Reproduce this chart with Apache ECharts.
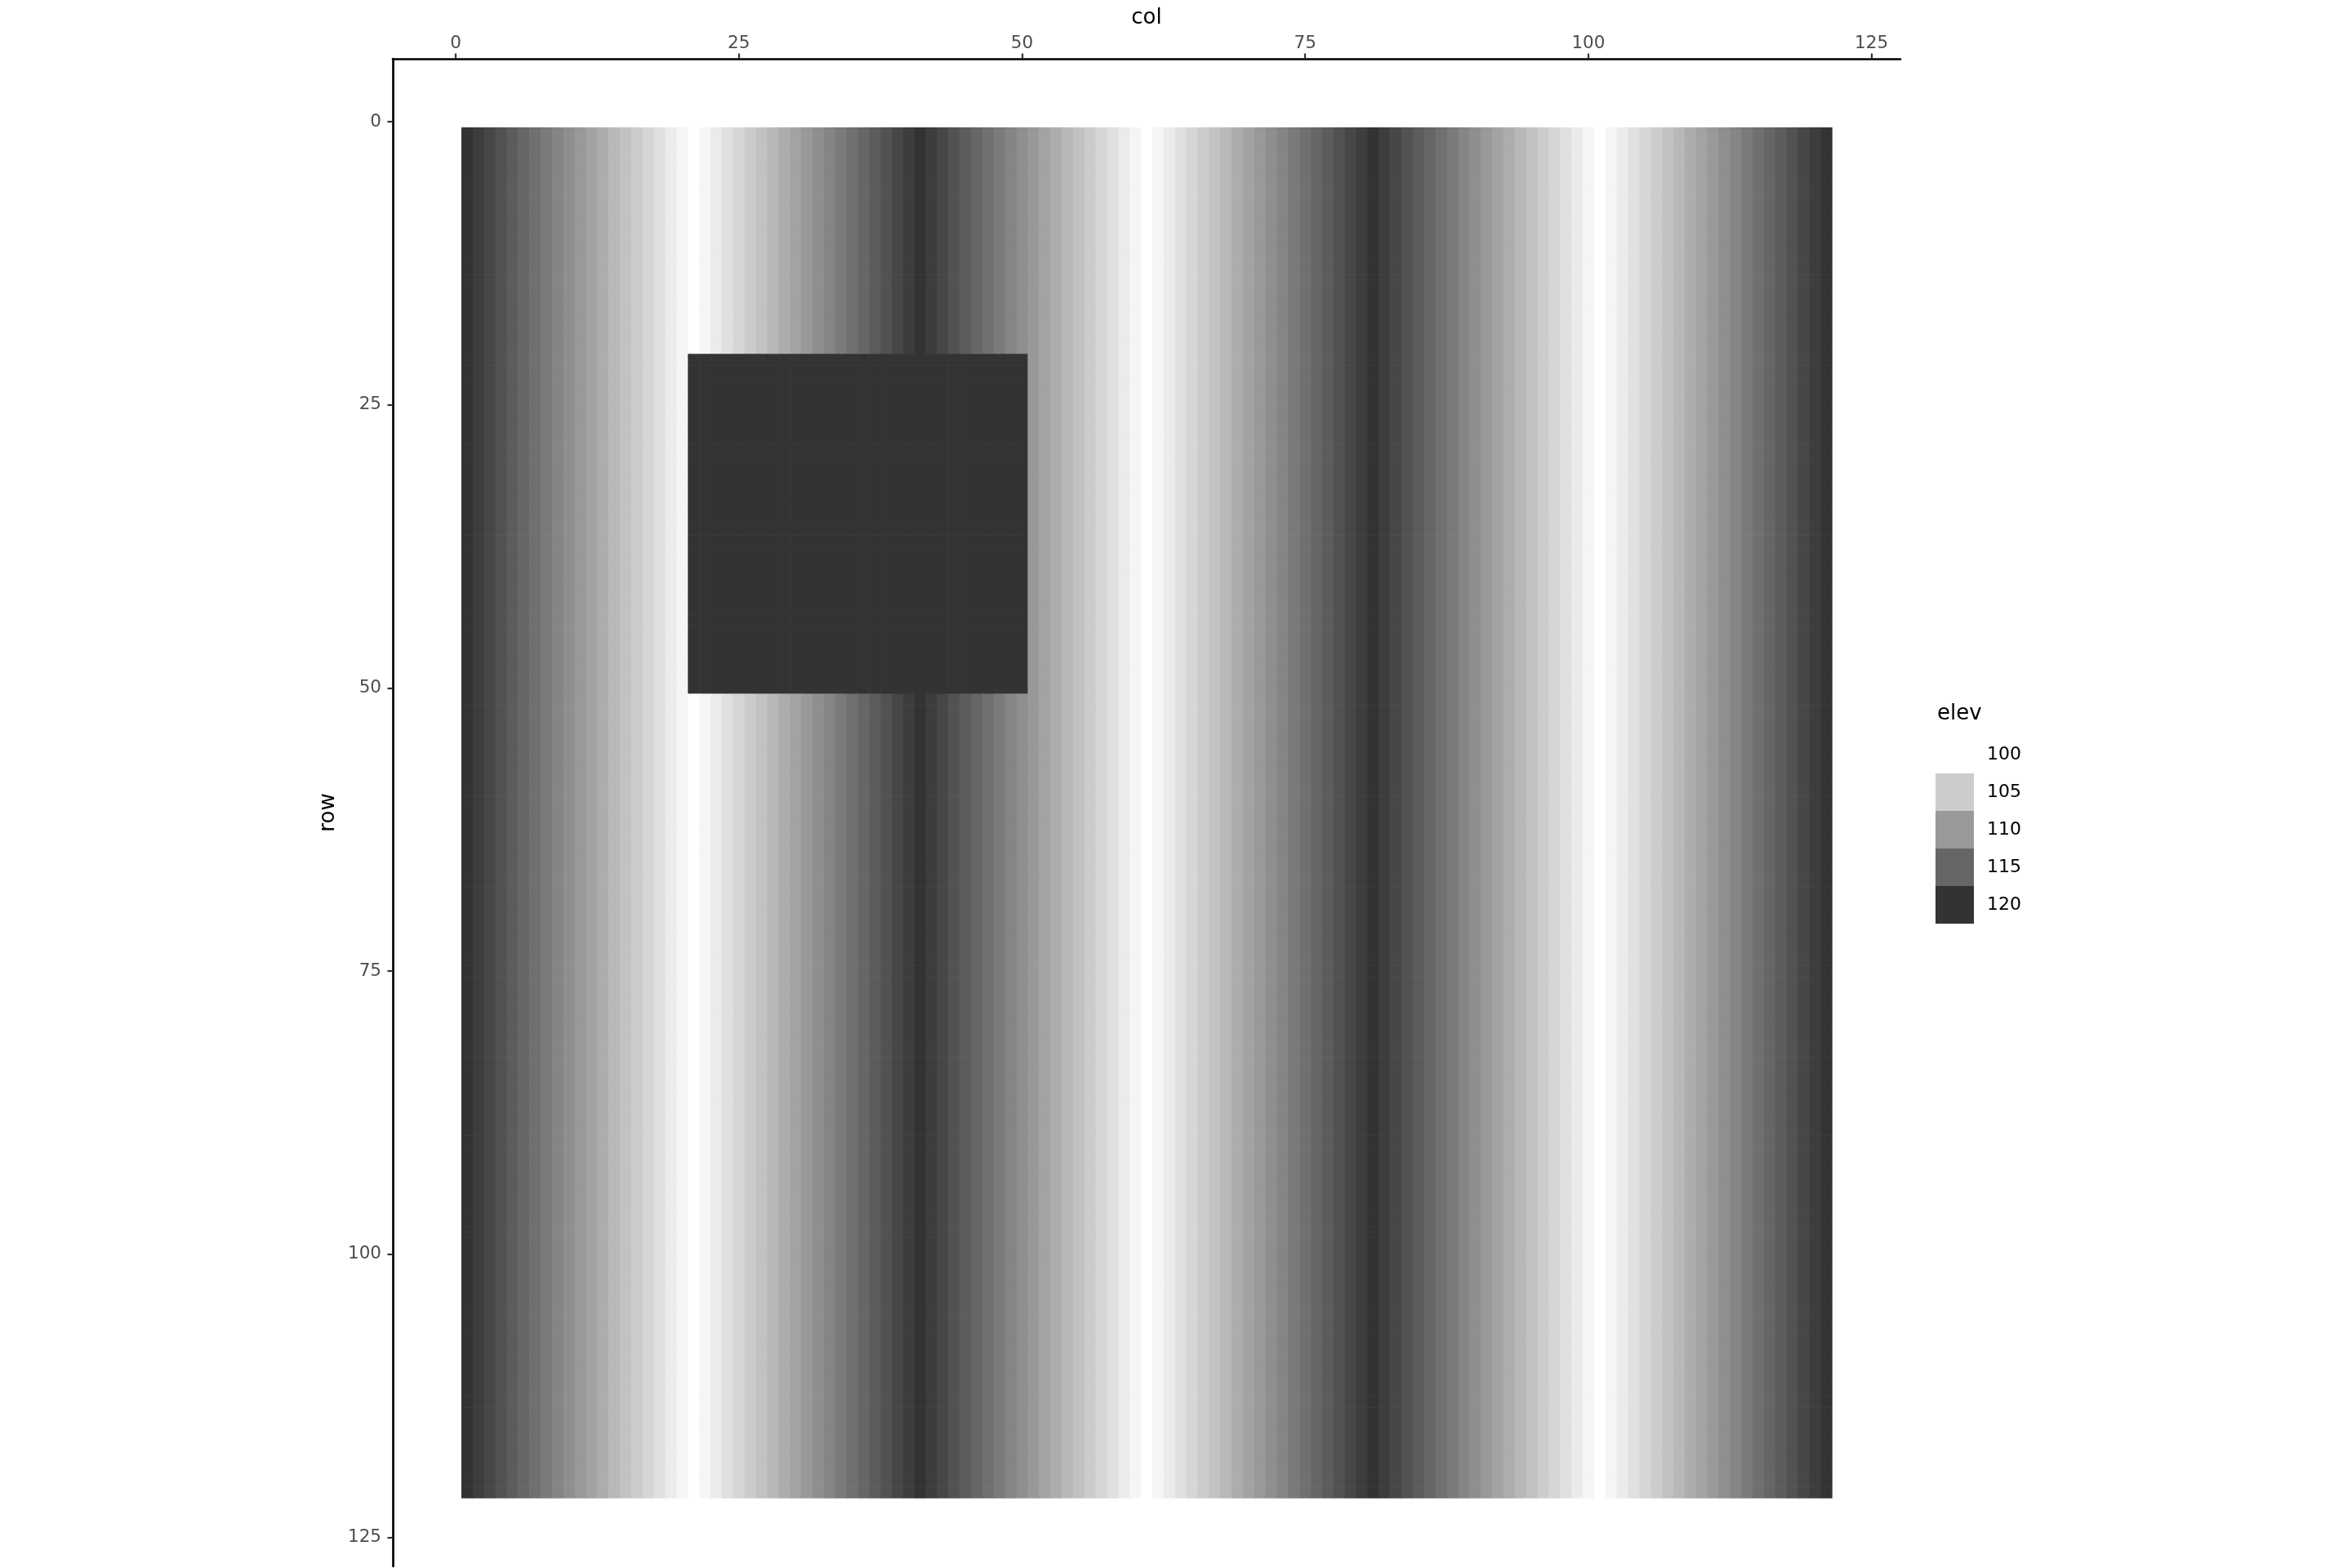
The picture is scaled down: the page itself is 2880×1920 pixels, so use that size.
<!DOCTYPE html>
<html>
<head>
<meta charset="utf-8">
<script src="https://cdn.jsdelivr.net/npm/echarts@6/dist/echarts.min.js"></script>
<style>
  html, body { margin: 0; padding: 0; background: #ffffff; }
  #chart { width: 2880px; height: 1920px; }
</style>
</head>
<body>
<div id="chart"></div>
<script>
// ---- data ----
// elevation of each column (col 1 .. 121), identical for every row
const colElev = [
  120,119,118,117,116,115,114,113,112,111,110,109,108,107,106,105,104,103,102,101,100,
  101,102,103,104,105,106,107,108,109,110,111,112,113,114,115,116,117,118,119,120,
  119,118,117,116,115,114,113,112,111,110,109,108,107,106,105,104,103,102,101,100,
  101,102,103,104,105,106,107,108,109,110,111,112,113,114,115,116,117,118,119,120,
  119,118,117,116,115,114,113,112,111,110,109,108,107,106,105,104,103,102,101,100,
  101,102,103,104,105,106,107,108,109,110,111,112,113,114,115,116,117,118,119,120
];
const nRows = 121;
// square block raised to a constant elevation
const blockRows = [21, 50];
const blockCols = [21, 50];
const blockElev = 120;

const xTicks = [0, 25, 50, 75, 100, 125];
const yTicks = [0, 25, 50, 75, 100, 125];
const legendBreaks = [100, 105, 110, 115, 120];
const elevRange = [100, 120];

// ---- build cell table ----
const cells = [];
for (let r = 1; r <= nRows; r++) {
  for (let c = 1; c <= colElev.length; c++) {
    const inBlock = r >= blockRows[0] && r <= blockRows[1] && c >= blockCols[0] && c <= blockCols[1];
    cells.push([c, r, inBlock ? blockElev : colElev[c - 1]]);
  }
}

// ---- styling ----
const LOW = [255, 255, 255], HIGH = [51, 51, 51];
function elevColor(v) {
  let t = (v - elevRange[0]) / (elevRange[1] - elevRange[0]);
  t = Math.max(0, Math.min(1, t));
  const ch = LOW.map((l, i) => Math.round(l + (HIGH[i] - l) * t));
  return 'rgb(' + ch.join(',') + ')';
}

const FONT = 'DejaVu Sans';
const xMin = 0.5 - 0.05 * colElev.length, xMax = colElev.length + 0.5 + 0.05 * colElev.length;
const yMin = 0.5 - 0.05 * nRows, yMax = nRows + 0.5 + 0.05 * nRows;

const axisCommon = {
  type: 'value',
  splitLine: { show: false },
  axisLine: { show: true, onZero: false, lineStyle: { color: '#000000', width: 2.7 } },
  nameLocation: 'middle',
  nameTextStyle: { fontFamily: FONT, fontSize: 26, color: '#000000' }
};

// legend graphic
const keyX = 2370, keyY0 = 901, keyW = 47, keyH = 46;
const legendGraphics = [
  { type: 'text', left: 2372, top: 861, style: { text: 'elev', fontFamily: FONT, fontSize: 26, fill: '#000000' } }
];
legendBreaks.forEach((b, i) => {
  legendGraphics.push({ type: 'rect', shape: { x: keyX, y: keyY0 + i * keyH, width: keyW, height: keyH }, style: { fill: elevColor(b) } });
  legendGraphics.push({ type: 'text', x: 2433, y: keyY0 + i * keyH + keyH / 2,
    style: { text: String(b), fontFamily: FONT, fontSize: 22, fill: '#000000', verticalAlign: 'middle', align: 'left' } });
});

const chart = echarts.init(document.getElementById('chart'), null, { renderer: 'canvas' });
chart.setOption({
  animation: false,
  backgroundColor: '#ffffff',
  grid: { left: 481, top: 72, width: 1846, height: 1846, containLabel: false },
  xAxis: Object.assign({}, axisCommon, {
    position: 'top', min: xMin, max: xMax, name: 'col', nameGap: 37,
    axisTick: { show: true, customValues: xTicks, length: 6.5, lineStyle: { color: '#333333', width: 2.2 } },
    axisLabel: { customValues: xTicks, margin: 8, fontFamily: FONT, fontSize: 21.5, color: '#4d4d4d' }
  }),
  yAxis: Object.assign({}, axisCommon, {
    inverse: true, min: yMin, max: yMax, name: 'row', nameGap: 66, nameRotate: 90,
    axisTick: { show: true, customValues: yTicks, length: 6.5, lineStyle: { color: '#333333', width: 2.2 } },
    axisLabel: { customValues: yTicks, margin: 14, fontFamily: FONT, fontSize: 21.5, color: '#4d4d4d' }
  }),
  graphic: legendGraphics,
  series: [{
    type: 'custom',
    coordinateSystem: 'cartesian2d',
    data: cells,
    encode: { x: 0, y: 1 },
    renderItem: function (params, api) {
      const c = api.value(0), r = api.value(1), v = api.value(2);
      const p0 = api.coord([c - 0.5, r - 0.5]);
      const p1 = api.coord([c + 0.5, r + 0.5]);
      const x = Math.min(p0[0], p1[0]), y = Math.min(p0[1], p1[1]);
      const w = Math.abs(p1[0] - p0[0]), h = Math.abs(p1[1] - p0[1]);
      return {
        type: 'rect',
        shape: { x: x, y: y, width: w + 0.6, height: h + 0.6 },
        style: { fill: elevColor(v) },
        silent: true
      };
    }
  }]
});
</script>
</body>
</html>
